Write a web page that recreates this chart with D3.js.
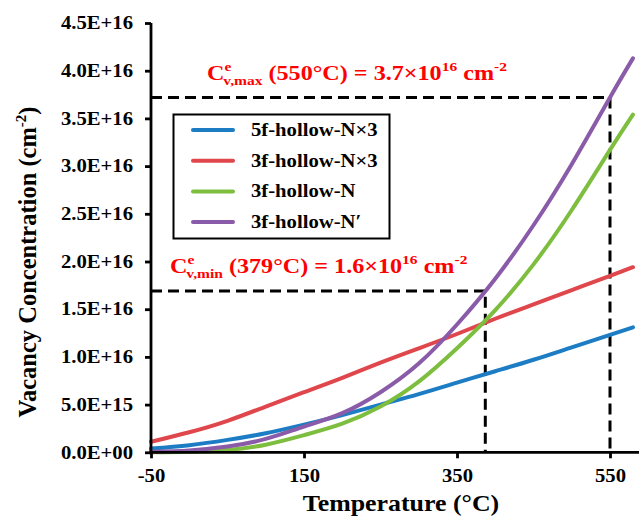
<!DOCTYPE html>
<html lang="en">
<head>
<meta charset="utf-8">
<title>Vacancy Concentration</title>
<script src="https://d3js.org/d3.v7.min.js"></script>
<style>
  body { margin: 0; background: #fff; }
  svg text { font-family: "Liberation Serif", "Times New Roman", serif; font-weight: bold; }
</style>
</head>
<body>
<div id="chart"></div>
<script>
// data (concentrations in units of 1E+15 cm-2)
const temps   = [-50, 0, 50, 100, 150, 200, 250, 300, 350, 400, 450, 500, 550, 580];
const blue5f  = [0.4, 0.75, 1.3, 2.0, 2.9, 3.9, 5.0, 6.1, 7.3, 8.5, 9.7, 11.0, 12.3, 13.1];
const red3f   = [1.1, 2.1, 3.3, 4.8, 6.3, 7.8, 9.4, 10.9, 12.4, 14.0, 15.5, 17.0, 18.5, 19.4];
const green3f = [0.0, 0.05, 0.25, 0.8, 1.8, 3.0, 4.8, 7.4, 10.9, 14.9, 19.7, 25.4, 31.7, 35.4];
const purple3f= [0.05, 0.2, 0.6, 1.4, 2.7, 4.1, 6.3, 9.3, 13.4, 18.2, 23.8, 30.2, 37.2, 41.3];
const seriesNames = ["5f-hollow-N×3", "3f-hollow-N×3", "3f-hollow-N", "3f-hollow-N′"];
const seriesColors = ["#1C7DC4", "#E0474C", "#7DBE3F", "#8A5BA8"];
const xTicks = [-50, 150, 350, 550];
const yTicks = [0, 5e15, 1e16, 1.5e16, 2e16, 2.5e16, 3e16, 3.5e16, 4e16, 4.5e16];
const guideTemps = [387, 550];
const guideConcs = [1.69e16, 3.72e16];

const width = 639, height = 516;
const sx = 1.15; // horizontal stretch of text

const svg = d3.select("#chart").append("svg")
  .attr("width", width).attr("height", height);

const x = d3.scaleLinear().domain([-50, 590]).range([151, 640.6]);
const y = d3.scaleLinear().domain([0, 4.5e16]).range([452.3, 23]);

function fmtE(v) {
  if (v === 0) return "0.0E+00";
  const e = Math.floor(Math.log10(v) + 1e-9);
  return (v / Math.pow(10, e)).toFixed(1) + "E+" + String(e).padStart(2, "0");
}

function stretchText(sel, tx, ty) {
  return sel.attr("transform", `translate(${tx},${ty}) scale(${sx},1)`);
}

// dashed guide lines
guideTemps.forEach((t, i) => {
  svg.append("path")
    .attr("d", `M${x(-50)},${y(guideConcs[i])}H${x(t)}V${y(0)}`)
    .attr("fill", "none").attr("stroke", "#000")
    .attr("stroke-width", 3).attr("stroke-dasharray", "11,6");
});

// curves
const allSeries = [blue5f, red3f, green3f, purple3f];
const line = d3.line()
  .x((d, i) => x(temps[i]))
  .y(d => y(d * 1e15))
  .curve(d3.curveNatural);

allSeries.forEach((s, i) => {
  svg.append("path")
    .datum(s)
    .attr("d", line)
    .attr("fill", "none")
    .attr("stroke", seriesColors[i])
    .attr("stroke-width", 4)
    .attr("stroke-linecap", "round");
});

// axes
const yAxis = svg.append("g")
  .attr("transform", `translate(${x(-50)},0)`)
  .call(d3.axisLeft(y).tickValues(yTicks).tickFormat(fmtE).tickSize(6).tickPadding(12));
const xAxis = svg.append("g")
  .attr("transform", `translate(0,${y(0)})`)
  .call(d3.axisBottom(x).tickValues(xTicks).tickFormat(d => String(d)).tickSize(6).tickPadding(8));

[xAxis, yAxis].forEach(g => {
  g.select(".domain").attr("stroke", "#000").attr("stroke-width", 2.8);
  g.selectAll(".tick line").attr("stroke", "#000").attr("stroke-width", 2.8);
  g.selectAll(".tick text").attr("fill", "#000").style("font-size", "18px")
    .style("font-family", "Liberation Serif").style("font-weight", "bold");
});
xAxis.select(".domain").attr("d", `M${x(-50)},0H${width}`);
yAxis.select(".domain").attr("d", `M0,${y(0)}V${y(4.5e16)}`);
yAxis.selectAll(".tick text").attr("transform", `scale(${sx},1)`)
  .attr("x", -18 / sx);
xAxis.selectAll(".tick text").attr("transform", `scale(${sx},1)`)
  .attr("dy", "0.85em");

// axis titles
const xt = svg.append("text").attr("text-anchor", "middle")
  .style("font-size", "22.5px").attr("fill", "#000")
  .text("Temperature (°C)");
stretchText(xt, 401, 511);

const yt = svg.append("text").attr("text-anchor", "middle")
  .style("font-size", "24.5px").attr("fill", "#000")
  .attr("transform", "translate(36,262) rotate(-90)");
yt.append("tspan").text("Vacancy Concentration (cm");
yt.append("tspan").attr("dy", -10).style("font-size", "15px").text("-2");
yt.append("tspan").attr("dy", 10).text(")");

// legend
const lg = svg.append("g");
lg.append("rect").attr("x", 173.5).attr("y", 114.5).attr("width", 216).attr("height", 124)
  .attr("fill", "#fff").attr("stroke", "#000").attr("stroke-width", 2);
seriesNames.forEach((n, i) => {
  const ly = 130 + i * 30.7;
  lg.append("line").attr("x1", 193).attr("x2", 233).attr("y1", ly).attr("y2", ly)
    .attr("stroke", seriesColors[i]).attr("stroke-width", 4).attr("stroke-linecap", "round");
  const t = lg.append("text").style("font-size", "18px").attr("fill", "#000").text(n);
  stretchText(t, 251, ly + 6);
});

// annotations
function annot(tx, ty, sub, temp, val) {
  const t = svg.append("text").attr("fill", "#ff0000").style("font-size", "21px");
  t.append("tspan").text("C");
  t.append("tspan").attr("dy", -9).style("font-size", "13.5px").text("e");
  t.append("tspan").attr("dx", -7).attr("dy", 14).style("font-size", "13.5px").text(sub);
  t.append("tspan").attr("dy", -5).text(` (${temp}°C) = ${val}×10`);
  t.append("tspan").attr("dy", -9).style("font-size", "13.5px").text("16");
  t.append("tspan").attr("dy", 9).text(" cm");
  t.append("tspan").attr("dy", -9).style("font-size", "13.5px").text("-2");
  stretchText(t, tx, ty);
}
annot(207, 80, "v,max", 550, "3.7");
annot(170, 273, "v,min", 379, "1.6");
</script>
</body>
</html>
